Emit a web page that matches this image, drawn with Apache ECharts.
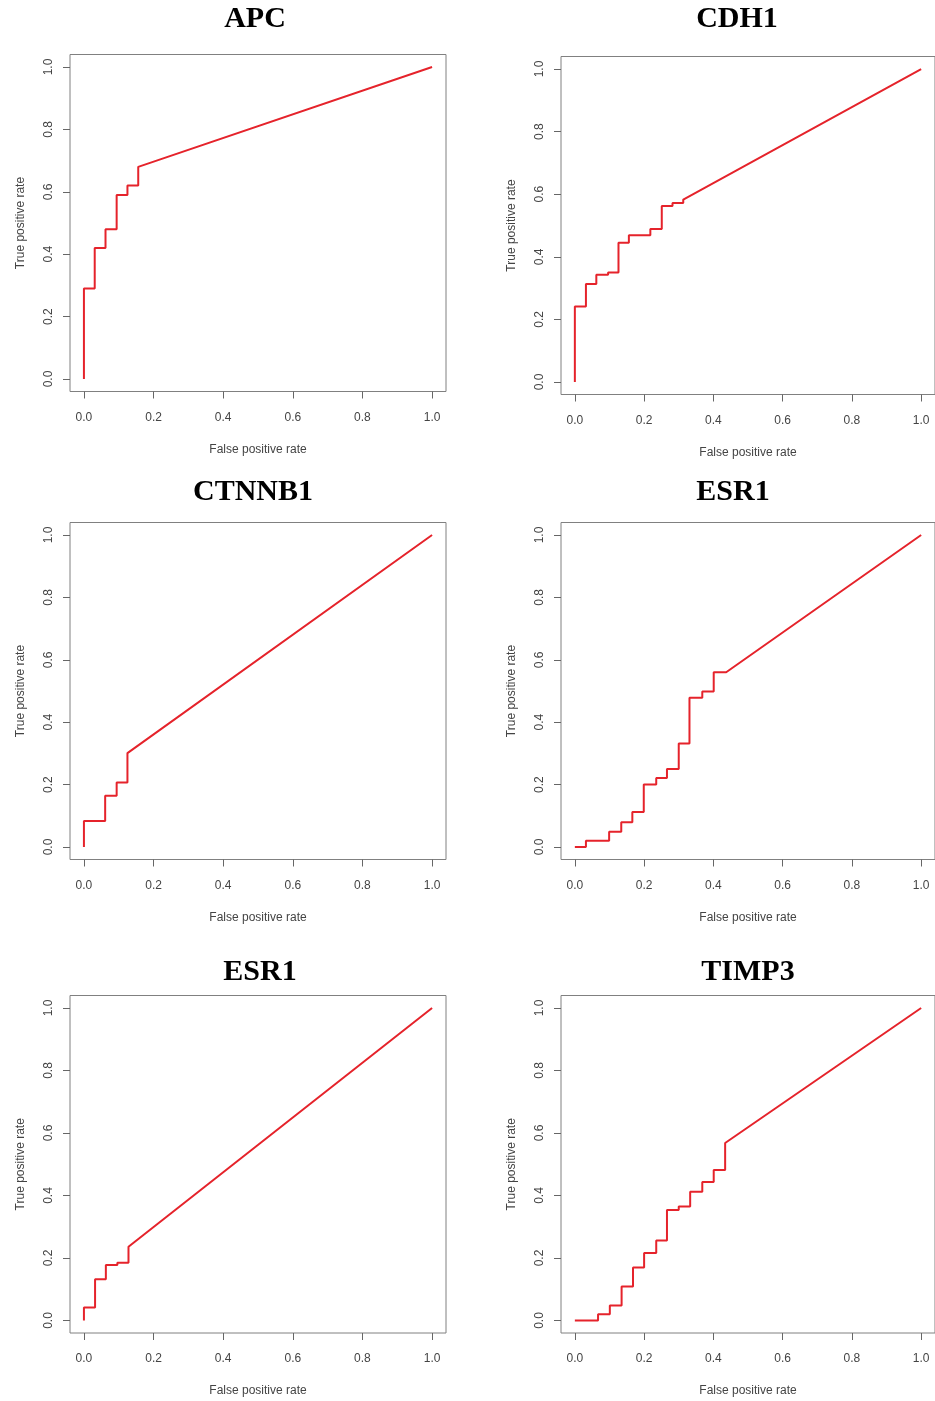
<!DOCTYPE html>
<html>
<head>
<meta charset="utf-8">
<title>ROC curves</title>
<script src="https://cdn.jsdelivr.net/npm/echarts@6/dist/echarts.min.js"></script>
<style>
    html, body {margin: 0; padding: 0; background: #fff;}
    #main {width: 935px; height: 1401px;}
</style>
</head>
<body>
<div id="main"></div>
<script>
// panel titles, in reading order
const panelTitles = ['APC', 'CDH1', 'CTNNB1', 'ESR1', 'ESR1', 'TIMP3'];

// ROC steps: at each false positive rate the curve rises to the true positive rate
const apcFpr = [0, 0.031, 0.062, 0.094, 0.125, 0.156];
const apcTpr = [0.29, 0.42, 0.48, 0.59, 0.62, 0.68];

const cdh1Fpr = [0, 0.032, 0.062, 0.096, 0.126, 0.156, 0.218, 0.251, 0.282, 0.313];
const cdh1Tpr = [0.241, 0.313, 0.343, 0.350, 0.445, 0.469, 0.489, 0.562, 0.572, 0.583];

const ctnnb1Fpr = [0, 0.061, 0.094, 0.125];
const ctnnb1Tpr = [0.083, 0.164, 0.207, 0.301];

const esr1aFpr = [0.032, 0.099, 0.134, 0.166, 0.199, 0.235, 0.266, 0.300, 0.331, 0.368, 0.401, 0.437];
const esr1aTpr = [0.020, 0.049, 0.079, 0.112, 0.200, 0.221, 0.250, 0.332, 0.478, 0.498, 0.560, 0.560];

const esr1bFpr = [0, 0.032, 0.063, 0.096, 0.128];
const esr1bTpr = [0.042, 0.132, 0.178, 0.185, 0.236];

const timp3Fpr = [0.067, 0.101, 0.135, 0.168, 0.200, 0.235, 0.266, 0.300, 0.333, 0.368, 0.401, 0.434];
const timp3Tpr = [0.020, 0.048, 0.109, 0.170, 0.216, 0.256, 0.354, 0.365, 0.412, 0.443, 0.482, 0.568];

const tickValues = [0, 0.2, 0.4, 0.6, 0.8, 1.0];

const curves = [
    [apcFpr, apcTpr],
    [cdh1Fpr, cdh1Tpr],
    [ctnnb1Fpr, ctnnb1Tpr],
    [esr1aFpr, esr1aTpr],
    [esr1bFpr, esr1bTpr],
    [timp3Fpr, timp3Tpr]
];

// plot boxes (R style: axis range extends 4% past 0 and 1)
const boxes = [
    {left: 70, top: 54.5, width: 376, height: 337},
    {left: 561, top: 56.5, width: 375, height: 338},
    {left: 70, top: 522.5, width: 376, height: 337},
    {left: 561, top: 522.5, width: 375, height: 337},
    {left: 70, top: 995.5, width: 376, height: 337.5},
    {left: 561, top: 995.5, width: 375, height: 337.5}
];
const titlePos = [[255, 19], [737, 19], [253, 492], [733, 492], [260, 972], [748, 972]];

// build the staircase: go right at the old rate, then up to the new one, finally to (1,1)
function stairs(fpr, tpr) {
    const pts = [[0, 0]];
    let prev = 0;
    for (let i = 0; i < fpr.length; i++) {
        pts.push([fpr[i], prev]);
        pts.push([fpr[i], tpr[i]]);
        prev = tpr[i];
    }
    pts.push([1, 1]);
    return pts;
}

const labelFont = {fontFamily: 'Liberation Sans, Arial, sans-serif', fontSize: 12, color: '#444'};

const grids = [], xAxes = [], yAxes = [], series = [], texts = [];

boxes.forEach((b, i) => {
    grids.push({
        left: b.left, top: b.top, width: b.width, height: b.height,
        show: true, borderColor: '#808080', borderWidth: 1, backgroundColor: 'transparent'
    });
    xAxes.push({
        type: 'value', gridIndex: i, min: -0.04, max: 1.04,
        name: 'False positive rate', nameLocation: 'middle', nameGap: 52,
        nameTextStyle: labelFont,
        axisLine: {show: false, onZero: false},
        splitLine: {show: false},
        axisTick: {show: true, inside: false, length: 7, customValues: tickValues, lineStyle: {color: '#666'}},
        axisLabel: Object.assign({customValues: tickValues, margin: 20, formatter: v => v.toFixed(1)}, labelFont)
    });
    yAxes.push({
        type: 'value', gridIndex: i, min: -0.04, max: 1.04,
        name: 'True positive rate', nameLocation: 'middle', nameGap: 43,
        nameTextStyle: labelFont,
        axisLine: {show: false, onZero: false},
        splitLine: {show: false},
        axisTick: {show: true, inside: false, length: 7, customValues: tickValues, lineStyle: {color: '#666'}},
        axisLabel: Object.assign({customValues: tickValues, margin: 15, rotate: 90, formatter: v => v.toFixed(1)}, labelFont)
    });
    series.push({
        type: 'line', xAxisIndex: i, yAxisIndex: i,
        data: stairs(curves[i][0], curves[i][1]),
        showSymbol: false, silent: true, animation: false,
        lineStyle: {color: '#e5232b', width: 2}
    });
    texts.push({
        type: 'text', x: titlePos[i][0], y: titlePos[i][1],
        style: {
            text: panelTitles[i], textAlign: 'center', textVerticalAlign: 'middle',
            font: 'bold 30px "Liberation Serif", "Times New Roman", serif', fill: '#000'
        }
    });
});

const myChart = echarts.init(document.getElementById('main'));
const option = {
    animation: false,
    grid: grids,
    xAxis: xAxes,
    yAxis: yAxes,
    series: series,
    graphic: texts
};
option && myChart.setOption(option);
</script>
</body>
</html>
